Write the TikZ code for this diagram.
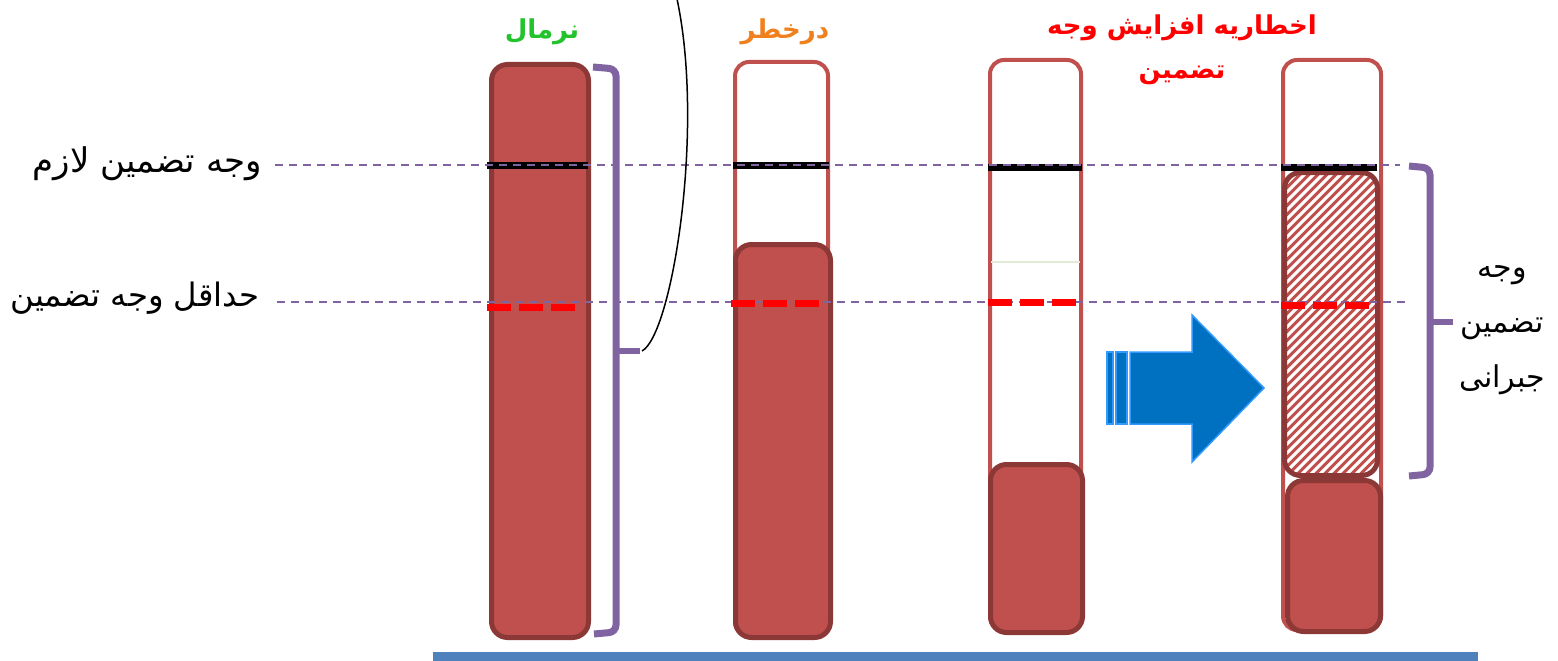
\documentclass[tikz,border=0pt]{standalone}
\usepackage{fontspec}
\TeXXeTstate=1
\newfontfamily\fa[Script=Arabic]{DejaVu Sans}
\definecolor{tubered}{HTML}{C0504D}
\definecolor{darkred}{HTML}{8C3836}
\definecolor{bracecol}{HTML}{8064A2}
\definecolor{arrowblue}{HTML}{0070C0}
\definecolor{arrowedge}{HTML}{3399FF}
\definecolor{barblue}{HTML}{4F81BD}
\definecolor{tgreen}{HTML}{22C32B}
\definecolor{torange}{HTML}{F07F1E}
\definecolor{faintgreen}{HTML}{E2EBD6}
\tikzset{
  tube/.style={draw=tubered, line width=4pt, rounded corners=14pt, fill=white, inner sep=0pt},
  fillblock/.style={draw=darkred, line width=5pt, fill=tubered, rounded corners=16pt, inner sep=0pt},
  hatchblock/.style={draw=darkred, line width=5pt, rounded corners=16pt, inner sep=0pt},
  hatchline/.style={draw=tubered, line width=2.9pt},
  levelbar/.style={draw=black, line width=7pt},
  minbar/.style={draw=red, line width=7pt, dash pattern=on 24pt off 8pt},
  guide/.style={draw=bracecol, line width=2pt, dash pattern=on 8pt off 6pt},
  brace/.style={draw=bracecol, line width=7pt, rounded corners=7pt},
  lbl/.style={font=\fa\fontsize{34}{40}\selectfont, inner sep=0pt},
  ttl/.style={font=\fa\bfseries\fontsize{26}{44}\selectfont, inner sep=0pt, align=center},
  arrowshape/.style={fill=arrowblue, draw=arrowedge, line width=1.5pt, line join=miter}
}
\begin{document}
\begin{tikzpicture}[x=1pt,y=-1pt]
\useasboundingbox (0,0) rectangle (1558,661);

% column 1 (normal)
\node[fillblock, minimum width=97pt, minimum height=573pt] (c1) at (540,351) {};

% column 2 (at risk)
\node[tube, minimum width=93pt, minimum height=574pt] (t2) at (781.5,349) {};
\node[fillblock, minimum width=95pt, minimum height=393pt] (c2) at (783,441) {};

% column 3 (margin call)
\node[tube, minimum width=91pt, minimum height=570pt] (t3) at (1035.5,345) {};
\draw[faintgreen, line width=2pt] (991,262) -- (1080,262);
\node[fillblock, minimum width=92pt, minimum height=168pt] (c3) at (1036.5,548.5) {};

% column 4 (after top-up)
\node[tube, minimum width=98pt, minimum height=570pt] (t4) at (1332,345) {};
\begin{scope}
  \clip[rounded corners=16pt] (1284.5,172.5) rectangle (1377.5,475.5);
  \foreach \i in {-36,...,12}
    \draw[hatchline] (1284.5+\i*9,478) -- ++(310,-310);
\end{scope}
\node[hatchblock, minimum width=93pt, minimum height=303pt] (h4) at (1331,324) {};
\node[fillblock, minimum width=93pt, minimum height=151pt] (c4) at (1334,556) {};

% required margin level bars
\draw[levelbar] (487,165) -- (588,165);
\draw[levelbar] (733,165) -- (829,165);
\draw[levelbar] (988,167) -- (1082,167);
\draw[levelbar] (1281,167) -- (1377,167);

% guide lines
\draw[guide] (275,165) -- (1400,165);
\draw[guide] (277,302) -- (1405,302);

% minimum margin bars
\draw[minbar] (487,307) -- (575,307);
\draw[minbar] (731,303) -- (820,303);
\draw[minbar] (988,302) -- (1076,302);
\draw[minbar] (1281,305) -- (1369,305);

% brace 1
\draw[brace] (593,67) -- (616,69) -- (616,632) -- (594,634);
\draw[bracecol, line width=6pt] (616,351) -- (640,351);
\coordinate (nubA) at (642,351);
\coordinate (topEnd) at (677,-1);
\draw[black, line width=1.5pt] (nubA) .. controls (672,335) and (705,130) .. (topEnd);

% brace 2
\draw[brace] (1409,166) -- (1430,168) -- (1430,474) -- (1409,476);
\draw[bracecol, line width=6pt] (1430,322) -- (1453,322);

% arrow
\draw[arrowshape] (1107,352) rectangle (1113,424);
\draw[arrowshape] (1116,352) rectangle (1127,424);
\draw[arrowshape] (1130,352) -- (1192,352) -- (1192,315) -- (1264,388) -- (1192,462) -- (1192,424) -- (1130,424) -- cycle;

% labels
\node[lbl, anchor=east] (lazem) at (262,164) {\beginR وجه تضمین لازم\endR};
\node[lbl, anchor=east, font=\fa\fontsize{32.3}{40}\selectfont] (hadaqal) at (260,298) {\beginR حداقل وجه تضمین\endR};
\node[ttl, text=tgreen] (normal) at (542,32) {\beginR نرمال\endR};
\node[ttl, text=torange] (risk) at (785,32) {\beginR درخطر\endR};
\node[ttl, text=red] (call) at (1182,50) {\beginR اخطاریه افزایش وجه\endR\\\beginR تضمین\endR};
\node[lbl, align=center, font=\fa\fontsize{30}{55}\selectfont] (jobrani) at (1502,330) {\beginR وجه\endR\\\beginR تضمین\endR\\\beginR جبرانی\endR};

% baseline
\fill[barblue] (433,652) rectangle (1478,661);
\end{tikzpicture}
\end{document}
